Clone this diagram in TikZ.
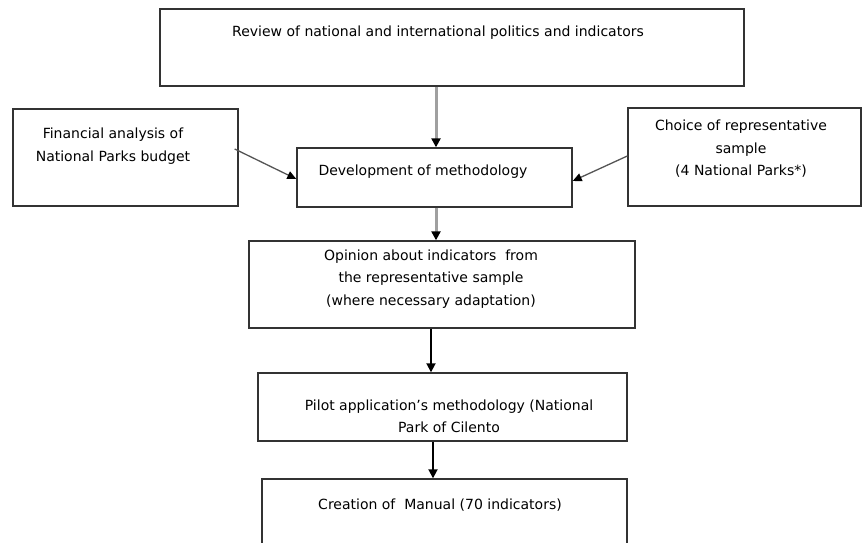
\documentclass[tikz,border=0pt]{standalone}
\usepackage{fontspec}
\setmainfont{DejaVu Sans}
\usetikzlibrary{arrows.meta}
\definecolor{boxline}{HTML}{333333}
\definecolor{lightarrow}{HTML}{A0A0A0}
\definecolor{darkline}{HTML}{555555}
\tikzset{
  box/.style={draw=boxline, line width=1.4pt, rectangle, inner sep=0pt, anchor=center},
  txt/.style={align=center, inner sep=0pt, anchor=center, text=black,
    font=\fontsize{14}{22.5}\selectfont},
  grayarrow/.style={draw=lightarrow, line width=3pt, -{Triangle[black,width=9pt,length=9pt]}},
  blackarrow/.style={draw=black, line width=1.8pt, -{Triangle[black,width=9pt,length=9pt]}},
  diagarrow/.style={draw=darkline, line width=1.3pt, -{Triangle[black,width=8pt,length=9pt]}}
}
\begin{document}
\begin{tikzpicture}[x=1pt,y=-1pt]
\clip (0,0) rectangle (862,542);
\fill[white] (0,0) rectangle (862,542);
% boxes
\node[box, minimum width=584pt, minimum height=77pt] (top) at (452,47.5) {};
\node[box, minimum width=225pt, minimum height=97pt] (left) at (125.5,157.5) {};
\node[box, minimum width=275pt, minimum height=59pt] (dev) at (434.5,177.5) {};
\node[box, minimum width=233pt, minimum height=98pt] (right) at (744.5,157) {};
\node[box, minimum width=386pt, minimum height=87pt] (opinion) at (442,284.5) {};
\node[box, minimum width=369pt, minimum height=68pt] (pilot) at (442.5,407) {};
\node[box, minimum width=365pt, minimum height=80pt] (manual) at (444.5,519) {};
% texts
\node[txt] (ttop) at (438,33) {Review of national and international politics and indicators};
\node[txt] (tleft) at (113,146) {Financial analysis of\\National Parks budget};
\node[txt] (tdev) at (423,172) {Development of methodology};
\node[txt] (tright) at (741,149) {Choice of representative\\sample\\(4 National Parks*)};
\node[txt] (topinion) at (431,279) {Opinion about indicators\ \ from\\the representative sample\\(where necessary adaptation)};
\node[txt] (tpilot) at (449,416.5) {Pilot application's methodology (National\\Park of Cilento};
\node[txt] (tmanual) at (440,505) {Creation of\ \ Manual (70 indicators)};
% connectors
\draw[grayarrow] ([xshift=-16pt]top.south) -- ([xshift=-16pt]top.south |- dev.north);
\draw[grayarrow] ([xshift=1.5pt]dev.south) -- ([xshift=1.5pt]dev.south |- opinion.north);
\draw[blackarrow] ([xshift=-11pt]opinion.south) -- ([xshift=-11pt]opinion.south |- pilot.north);
\draw[blackarrow] ([xshift=-9.5pt]pilot.south) -- ([xshift=-9.5pt]pilot.south |- manual.north);
\draw[diagarrow] ([xshift=-4pt,yshift=8.5pt]left.east) -- ([yshift=-1.5pt]dev.west);
\draw[diagarrow] ([yshift=1pt]right.west) -- ([yshift=-3.5pt]dev.east);
\end{tikzpicture}
\end{document}
